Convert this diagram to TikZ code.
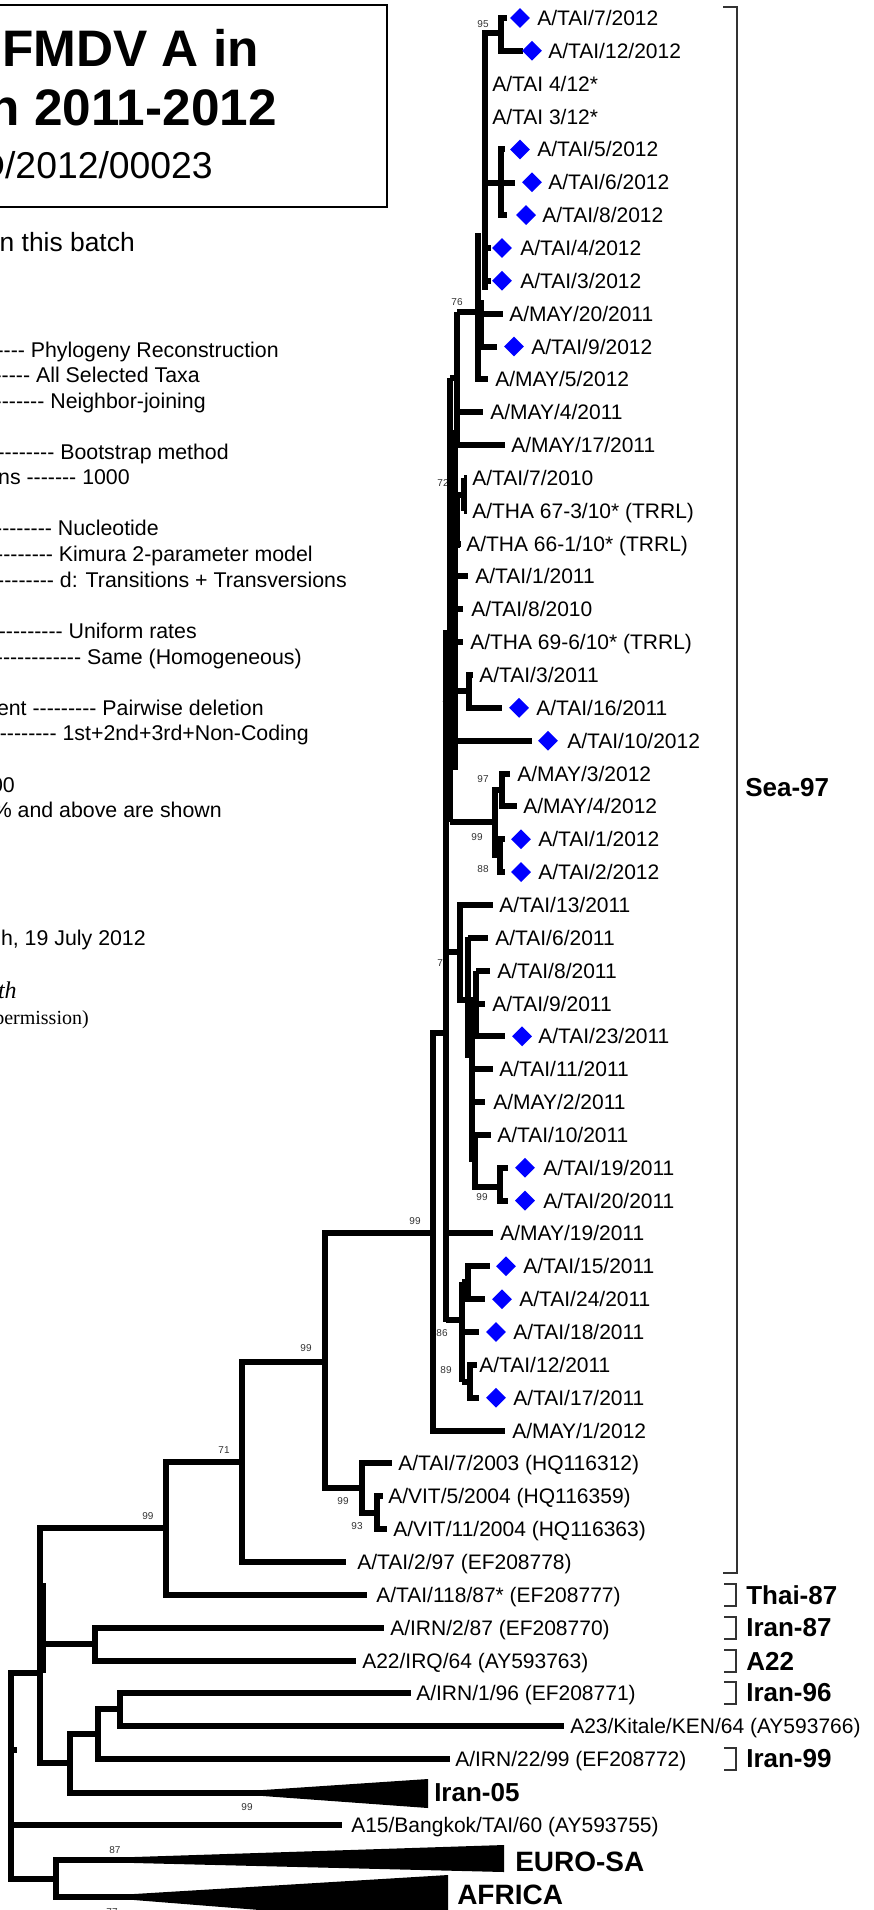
\documentclass[tikz,border=0pt]{standalone}
\usepackage{fontspec}
\setmainfont{Liberation Sans}
\newfontfamily\serifface{Liberation Serif}
\usetikzlibrary{shapes.geometric}
\newcommand\lf[4]{\node[leaf] (#1) at (#3,{25.5+32.85*#2}) {#4};}
\newcommand\dm[3]{\node[dia] (#1) at (#3,{18+32.85*#2}) {};}
\newcommand\dd[1]{\foreach\k in {1,...,#1}{-{}}}
\begin{document}
\begin{tikzpicture}[x=0.75pt,y=-0.75pt,
  br/.style={line width=4.5pt, line cap=butt, line join=miter},
  leaf/.style={anchor=base west, inner sep=0pt, font=\fontsize{15.75}{18}\selectfont},
  dia/.style={diamond, fill=blue, draw=none, inner sep=0pt, minimum width=15pt, minimum height=15pt},
  bs/.style={inner sep=0pt, text=black!80, font=\fontsize{7.5}{9}\selectfont},
  clade/.style={anchor=west, inner sep=0pt, font=\bfseries\fontsize{19.5}{22}\selectfont},
  bigclade/.style={anchor=west, inner sep=0pt, font=\bfseries\fontsize{21}{24}\selectfont},
  brk/.style={line width=1pt, draw=black!80},
  setting/.style={anchor=base east, inner sep=0pt, font=\fontsize{16}{18}\selectfont},
]
\useasboundingbox (0,0) rectangle (874,1910);
\fill[white] (0,0) rectangle (874,1910);
\clip (0,0) rectangle (874,1910);

% ---------- left panel ----------
\draw[line width=1.5pt] (-10,5) rectangle (387,207);
\node[anchor=base east, inner sep=0pt, font=\bfseries\fontsize{38.5}{42}\selectfont] (ti1) at (259,66) {FMDV A in};
\node[anchor=base east, inner sep=0pt, font=\bfseries\fontsize{38.5}{42}\selectfont] (ti2) at (277,125) {n 2011-2012};
\node[anchor=base east, inner sep=0pt, font=\fontsize{28}{32}\selectfont] (ti3) at (213,178) {D/2012/00023};
\node[anchor=base east, inner sep=0pt, font=\fontsize{19.8}{22}\selectfont] (batch) at (135,251) {n this batch};

\node[setting] (s1) at (279,357) {\dd{4} Phylogeny Reconstruction};
\node[setting] (s2) at (200,382) {\dd{5} All Selected Taxa};
\node[setting] (s3) at (206,408) {\dd{8} Neighbor-joining};
\node[setting] (s4) at (229,459) {\dd{9} Bootstrap method};
\node[setting] (s5) at (130,484) {ns \dd{7} 1000};
\node[setting] (s6) at (159,535) {\dd{9} Nucleotide};
\node[setting] (s7) at (313,561) {\dd{9} Kimura 2-parameter model};
\node[setting] (s8) at (347,587) {\dd{9} d: Transitions + Transversions};
\node[setting] (s9) at (197,638) {\dd{10} Uniform rates};
\node[setting] (s10) at (302,664) {\dd{12} Same (Homogeneous)};
\node[setting] (s11) at (264,715) {ent \dd{9} Pairwise deletion};
\node[setting] (s12) at (309,740) {\dd{10} 1st+2nd+3rd+Non-Coding};
\node[setting] (s13) at (15,792) {00};
\node[setting] (s14) at (222,817) {\% and above are shown};
\node[setting] (s15) at (146,945) {h, 19 July 2012};
\node[anchor=base east, inner sep=0pt, font=\serifface\itshape\fontsize{18}{20}\selectfont] (s16) at (17,998) {th};
\node[anchor=base east, inner sep=0pt, font=\serifface\fontsize{15}{18}\selectfont] (s17) at (89,1024) {permission)};

% ---------- bootstrap values ----------
\node[bs] (b1) at (483,24) {95};
\node[bs] (b2) at (457,302) {76};
\node[bs] (b3) at (443,483) {72};
\node[bs] (b4) at (448,705) {73};
\node[bs] (b5) at (483,779) {97};
\node[bs] (b6) at (477,837) {99};
\node[bs] (b7) at (483,869) {88};
\node[bs] (b8) at (443,963) {73};
\node[bs] (b9) at (482,1197) {99};
\node[bs] (b10) at (442,1333) {86};
\node[bs] (b11) at (446,1370) {89};
\node[bs] (b12) at (415,1221) {99};
\node[bs] (b13) at (306,1348) {99};
\node[bs] (b14) at (224,1450) {71};
\node[bs] (b15) at (148,1516) {99};
\node[bs] (b16) at (343,1501) {99};
\node[bs] (b17) at (357,1526) {93};
\node[bs] (b18) at (247,1807) {99};
\node[bs] (b19) at (115,1850) {87};
\node[bs] (b20) at (112,1912) {77};

% ---------- tree: lower part ----------
\draw[br] (11,1776) |- (40,1673);
\draw[br] (11,1776) |- (56,1879);
\draw[br] (11,1825) -- (342,1825);
\draw[br] (11,1750) -- (17,1750);
\draw[br] (40,1673) |- (166,1528);
\draw[br] (40,1673) |- (95,1644);
\draw[br] (40,1673) |- (70,1763);
\draw[br] (43,1583) -- (43,1673);
\draw[br] (166,1528) |- (242,1462);
\draw[br] (166,1528) |- (367,1595);
\draw[br] (242,1462) |- (325,1362);
\draw[br] (242,1462) |- (346,1562);
\draw[br] (325,1362) |- (433,1233);
\draw[br] (325,1362) |- (362,1488);
\draw[br] (362,1488) |- (392,1463);
\draw[br] (362,1488) |- (377,1513);
\draw[br] (377,1513) |- (383,1496);
\draw[br] (377,1513) |- (387,1529);
\draw[br] (95,1644) |- (384,1628);
\draw[br] (95,1644) |- (356,1661);
\draw[br] (70,1763) |- (98,1734);
\draw[br] (70,1763) |- (265,1793);
\draw[br] (98,1734) |- (120,1709);
\draw[br] (98,1734) |- (450,1759);
\draw[br] (120,1709) |- (411,1693);
\draw[br] (120,1709) |- (564,1726);
\draw[br] (56,1879) |- (136,1860);
\draw[br] (56,1879) |- (136,1897);
\fill (263,1790) -- (428,1779) -- (428,1808) -- (263,1796) -- cycle;
\fill (134,1857) -- (504,1845) -- (504,1872) -- (134,1863) -- cycle;
\fill (134,1894) -- (448,1875) -- (448,1925) -- (134,1900) -- cycle;

% ---------- tree: Sea-97 clade ----------
\draw[br] (433,1233) |- (446,1033);
\draw[br] (433,1233) |- (505,1431);
\draw[br] (446,630) -- (446,1322);
\draw[br] (450,378) -- (450,822);
\draw[br] (455,430) -- (455,770);
% rows 0-13
\draw[br] (483,33) -- (501,33);
\draw[br] (501,33) |- (507,18);
\draw[br] (501,33) |- (523,51);
\draw[br] (501,183) |- (505,149);
\draw[br] (501,183) |- (507,215);
\draw[br] (485,183) -- (515,183);
\draw[br] (485,30) -- (485,290);
\draw[br] (485,248) -- (491,248);
\draw[br] (485,281) -- (491,281);
\draw[br] (478,233) |- (488,379);
\draw[br] (480,314) -- (503,314);
\draw[br] (481,300) |- (497,347);
\draw[br] (457,312) -- (478,312);
\draw[br] (457,312) -- (457,445);
\draw[br] (457,412) -- (483,412);
\draw[br] (457,445) -- (505,445);
\draw[br] (450,378) -- (457,378);
% rows 14-22
\draw[br] (464,478) -- (464,511);
\draw[br] (464,478) -- (467,478);
\draw[br] (464,511) -- (467,511);
\draw[br] (457,493) -- (457,548);
\draw[br] (457,495) -- (464,495);
\draw[br] (457,544) -- (461,544);
\draw[br] (452,576) -- (468,576);
\draw[br] (452,609) -- (463,609);
\draw[br] (452,642) -- (463,642);
\draw[br] (452,691) -- (469,691);
\draw[br] (469,691) |- (473,675);
\draw[br] (469,691) |- (502,708);
\draw[br] (452,741) -- (532,741);
% rows 23-26
\draw[br] (450,822) -- (495,822);
\draw[br] (495,822) |- (502,790);
\draw[br] (495,822) |- (500,855);
\draw[br] (502,790) |- (510,774);
\draw[br] (502,790) |- (517,806);
\draw[br] (500,855) |- (505,839);
\draw[br] (500,855) |- (505,872);
% rows 27-36
\draw[br] (446,952) -- (460,952);
\draw[br] (460,952) |- (493,905);
\draw[br] (460,952) |- (468,1000);
\draw[br] (468,937) -- (468,1058);
\draw[br] (468,938) -- (488,938);
\draw[br] (476,971) -- (476,1038);
\draw[br] (476,971) -- (490,971);
\draw[br] (472,997) -- (472,1162);
\draw[br] (472,1004) -- (485,1004);
\draw[br] (472,1036) -- (505,1036);
\draw[br] (472,1069) -- (493,1069);
\draw[br] (472,1102) -- (485,1102);
\draw[br] (472,1135) -- (491,1135);
\draw[br] (475,1135) |- (500,1187);
\draw[br] (500,1187) |- (508,1168);
\draw[br] (500,1187) |- (508,1201);
% rows 37-42
\draw[br] (446,1233) -- (493,1233);
\draw[br] (446,1320) -- (462,1320);
\draw[br] (462,1282) -- (462,1382);
\draw[br] (462,1282) -- (468,1282);
\draw[br] (468,1282) |- (490,1266);
\draw[br] (468,1282) |- (485,1299);
\draw[br] (462,1332) -- (479,1332);
\draw[br] (462,1382) -- (470,1382);
\draw[br] (470,1382) |- (477,1365);
\draw[br] (470,1382) |- (479,1398);

% ---------- diamonds ----------
\dm{d0}{0}{520} \dm{d1}{1}{532} \dm{d4}{4}{520} \dm{d5}{5}{532} \dm{d6}{6}{526}
\dm{d7}{7}{502} \dm{d8}{8}{502} \dm{d10}{10}{514} \dm{d21}{21}{519} \dm{d22}{22}{548}
\dm{d25}{25}{521} \dm{d26}{26}{521} \dm{d31}{31}{522} \dm{d35}{35}{525} \dm{d36}{36}{525}
\dm{d38}{38}{506} \dm{d39}{39}{502} \dm{d40}{40}{496} \dm{d42}{42}{496}

% ---------- leaf labels ----------
\lf{t0}{0}{537}{A/TAI/7/2012}
\lf{t1}{1}{548}{A/TAI/12/2012}
\lf{t2}{2}{492}{A/TAI 4/12*}
\lf{t3}{3}{492}{A/TAI 3/12*}
\lf{t4}{4}{537}{A/TAI/5/2012}
\lf{t5}{5}{548}{A/TAI/6/2012}
\lf{t6}{6}{542}{A/TAI/8/2012}
\lf{t7}{7}{520}{A/TAI/4/2012}
\lf{t8}{8}{520}{A/TAI/3/2012}
\lf{t9}{9}{509}{A/MAY/20/2011}
\lf{t10}{10}{531}{A/TAI/9/2012}
\lf{t11}{11}{495}{A/MAY/5/2012}
\lf{t12}{12}{490}{A/MAY/4/2011}
\lf{t13}{13}{511}{A/MAY/17/2011}
\lf{t14}{14}{472}{A/TAI/7/2010}
\lf{t15}{15}{472}{A/THA 67-3/10* (TRRL)}
\lf{t16}{16}{466}{A/THA 66-1/10* (TRRL)}
\lf{t17}{17}{475}{A/TAI/1/2011}
\lf{t18}{18}{471}{A/TAI/8/2010}
\lf{t19}{19}{470}{A/THA 69-6/10* (TRRL)}
\lf{t20}{20}{479}{A/TAI/3/2011}
\lf{t21}{21}{536}{A/TAI/16/2011}
\lf{t22}{22}{567}{A/TAI/10/2012}
\lf{t23}{23}{517}{A/MAY/3/2012}
\lf{t24}{24}{523}{A/MAY/4/2012}
\lf{t25}{25}{538}{A/TAI/1/2012}
\lf{t26}{26}{538}{A/TAI/2/2012}
\lf{t27}{27}{499}{A/TAI/13/2011}
\lf{t28}{28}{495}{A/TAI/6/2011}
\lf{t29}{29}{497}{A/TAI/8/2011}
\lf{t30}{30}{492}{A/TAI/9/2011}
\lf{t31}{31}{538}{A/TAI/23/2011}
\lf{t32}{32}{499}{A/TAI/11/2011}
\lf{t33}{33}{493}{A/MAY/2/2011}
\lf{t34}{34}{497}{A/TAI/10/2011}
\lf{t35}{35}{543}{A/TAI/19/2011}
\lf{t36}{36}{543}{A/TAI/20/2011}
\lf{t37}{37}{500}{A/MAY/19/2011}
\lf{t38}{38}{523}{A/TAI/15/2011}
\lf{t39}{39}{519}{A/TAI/24/2011}
\lf{t40}{40}{513}{A/TAI/18/2011}
\lf{t41}{41}{479}{A/TAI/12/2011}
\lf{t42}{42}{513}{A/TAI/17/2011}
\lf{t43}{43}{512}{A/MAY/1/2012}
\lf{t44}{44}{398}{A/TAI/7/2003 (HQ116312)}
\lf{t45}{45}{388}{A/VIT/5/2004 (HQ116359)}
\lf{t46}{46}{393}{A/VIT/11/2004 (HQ116363)}
\lf{t47}{47}{357}{A/TAI/2/97 (EF208778)}
\lf{t48}{48}{376}{A/TAI/118/87* (EF208777)}
\lf{t49}{49}{390}{A/IRN/2/87 (EF208770)}
\lf{t50}{50}{362}{A22/IRQ/64 (AY593763)}
\lf{t51}{51}{416}{A/IRN/1/96 (EF208771)}
\lf{t52}{52}{570}{A23/Kitale/KEN/64 (AY593766)}
\lf{t53}{53}{455}{A/IRN/22/99 (EF208772)}
\lf{t55}{55}{351}{A15/Bangkok/TAI/60 (AY593755)}

% ---------- clade labels and brackets ----------
\draw[brk] (723,7) -| (737,1573) -- (723,1573);
\node[clade] (sea) at (745,788) {Sea-97};
\foreach \nm/\yy/\lab in {thai/1595/Thai-87, iran87/1628/Iran-87, a22/1661/A22, iran96/1693/Iran-96, iran99/1759/Iran-99}{
  \draw[brk] (724,\yy-11) -| (736,\yy+11) -- (724,\yy+11);
  \node[clade] (\nm) at (746,\yy) {\lab};
}
\node[clade] (iran05) at (434,1793) {Iran-05};
\node[bigclade] (euro) at (515,1862) {EURO-SA};
\node[bigclade] (africa) at (457,1895) {AFRICA};
\end{tikzpicture}
\end{document}
